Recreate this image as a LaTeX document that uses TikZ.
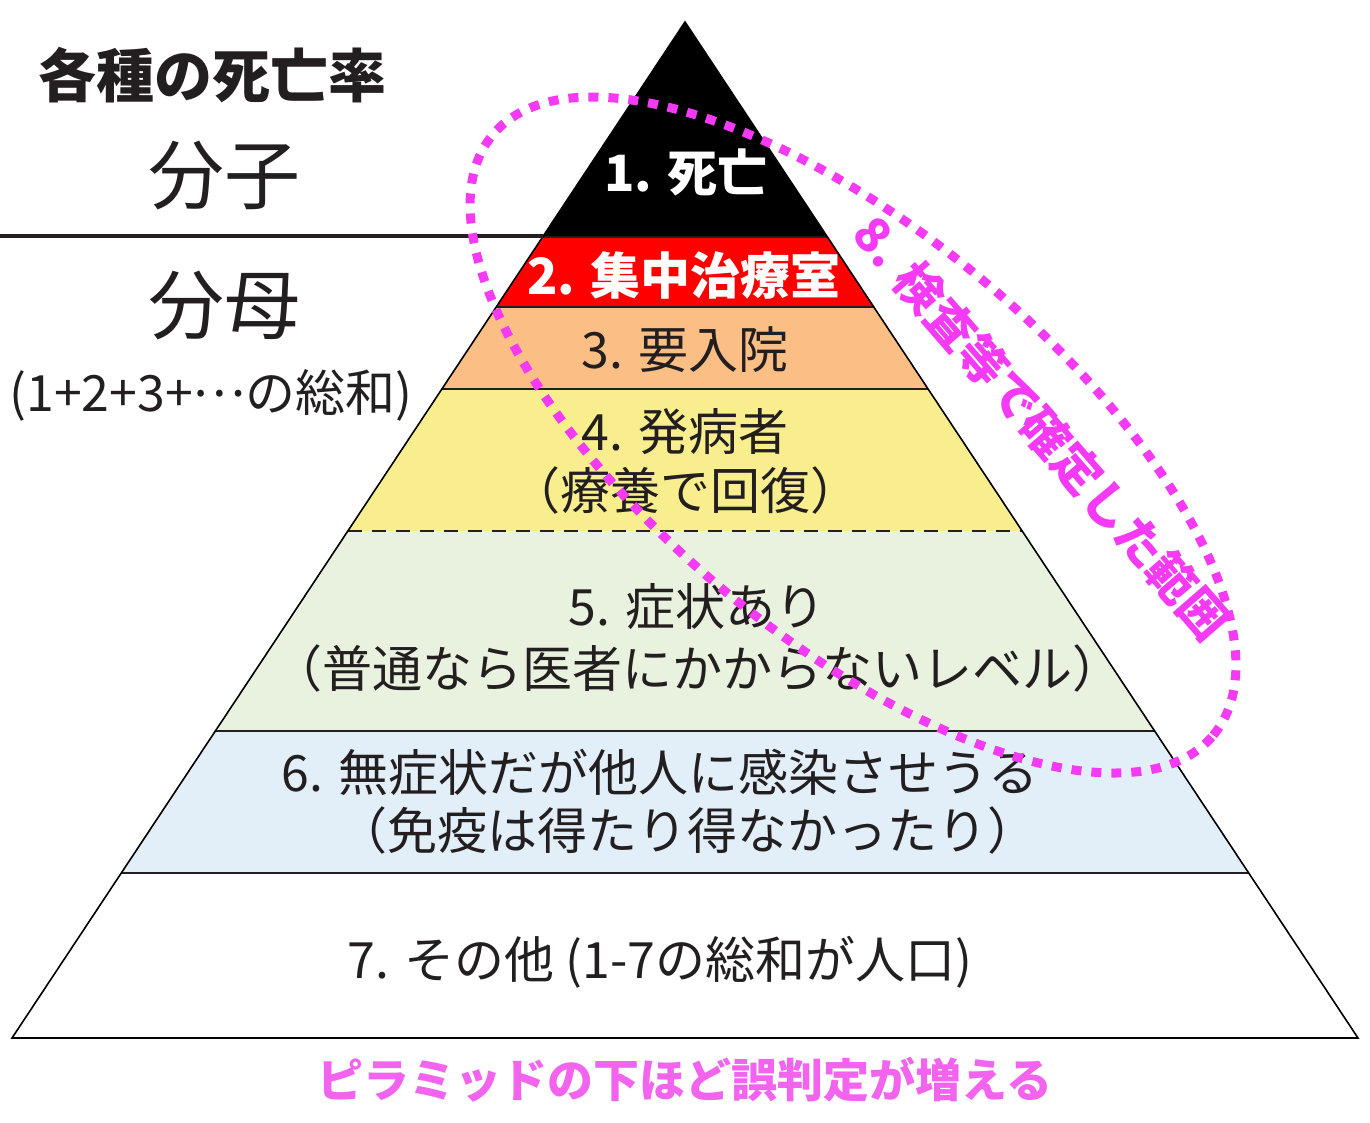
\documentclass[tikz,border=0pt]{standalone}
\usepackage{fontspec}
\setmainfont{Noto Sans CJK JP}
\usetikzlibrary{calc}
\definecolor{dk}{HTML}{231F20}
\definecolor{bred}{HTML}{FF0000}
\definecolor{borange}{HTML}{FBBE85}
\definecolor{byellow}{HTML}{F9EE8E}
\definecolor{bgreen}{HTML}{E9F2DF}
\definecolor{bblue}{HTML}{E2EFF9}
\definecolor{mag}{HTML}{F53AF5}
\definecolor{pinktext}{HTML}{F264EE}
\tikzset{
  lbl/.style={inner sep=0pt, text=dk, font=\fontsize{50}{60}\selectfont},
  lblb/.style={inner sep=0pt, text=white, font=\fontsize{50}{60}\selectfont\bfseries},
  sep/.style={draw=dk, line width=1.5pt},
}
\begin{document}
\begin{tikzpicture}[x=1pt,y=-1pt]
\fill[white] (0,0) rectangle (1370,1122);
\useasboundingbox (0,0) rectangle (1370,1122);
\coordinate (A) at (685,22);
\coordinate (BL) at (12,1038);
\coordinate (BR) at (1358,1038);
% bands
\fill[black] (A) -- (542.6,237) -- (827.4,237) -- cycle;
\fill[bred] (542.6,237) -- (827.4,237) -- (873.8,307) -- (496.2,307) -- cycle;
\fill[borange] (496.2,307) -- (873.8,307) -- (928.1,389) -- (441.9,389) -- cycle;
\fill[byellow] (441.9,389) -- (928.1,389) -- (1022.2,531) -- (347.8,531) -- cycle;
\fill[bgreen] (347.8,531) -- (1022.2,531) -- (1154.6,731) -- (215.4,731) -- cycle;
\fill[bblue] (215.4,731) -- (1154.6,731) -- (1248.7,873) -- (121.3,873) -- cycle;
% separators
\draw[sep] (542.6,237) -- (827.4,237);
\draw[sep] (496.2,307) -- (873.8,307);
\draw[sep] (441.9,389) -- (928.1,389);
\draw[draw=dk, line width=1.3pt, dash pattern=on 14pt off 10pt] (347.8,531) -- (1022.2,531);
\draw[sep] (215.4,731) -- (1154.6,731);
\draw[sep] (121.3,873) -- (1248.7,873);
\draw[line width=1.6pt, line join=miter] (A) -- (BL) -- (BR) -- cycle;
% fraction line
\coordinate (L0) at (0,236);
\draw[line width=4pt, draw=dk] (L0) -- (542.6,236);
% left texts
\node[lbl, font=\fontsize{58}{66}\selectfont\bfseries] (title) at (212,75) {各種の死亡率};
\node[lbl, font=\fontsize{76}{86}\selectfont] (bunshi) at (224,175) {分子};
\node[lbl, font=\fontsize{76}{86}\selectfont] (bunbo) at (224,305) {分母};
\node[lbl, font=\fontsize{50}{60}\selectfont] (sum) at (211,395) {(1+2+3+\raisebox{0.3em}{…}の総和)};
% band labels
\node[lblb] (t1) at (686,172) {1. 死亡};
\node[lblb] (t2) at (684,275) {2. 集中治療室};
\node[lbl] (t3) at (685,350) {3. 要入院};
\node[lbl] (t4) at (685,432) {4. 発病者};
\node[lbl] (t4b) at (685,490) {（療養で回復）};
\node[lbl] (t5) at (697,607) {5. 症状あり};
\node[lbl] (t5b) at (697,668) {（普通なら医者にかからないレベル）};
\node[lbl] (t6) at (660,772) {6. 無症状だが他人に感染させうる};
\node[lbl] (t6b) at (687,830) {（免疫は得たり得なかったり）};
\node[lbl] (t7) at (660,962) {7. その他 (1-7の総和が人口)};
% bottom text
\node[inner sep=0pt, text=pinktext, font=\fontsize{46}{54}\selectfont\bfseries] (bottom) at (685,1080) {ピラミッドの下ほど誤判定が増える};
% dotted ellipse
\draw[mag, line width=9pt, dash pattern=on 10pt off 10pt, shift={(853,435)}, rotate=-39.8] (0,0) ellipse [x radius=469pt, y radius=202pt];
\node[inner sep=0pt, text=mag, rotate=-49, font=\fontsize{48}{56}\selectfont\bfseries] (t8) at (1042,428) {8. 検査等で確定した範囲};
\end{tikzpicture}
\end{document}
